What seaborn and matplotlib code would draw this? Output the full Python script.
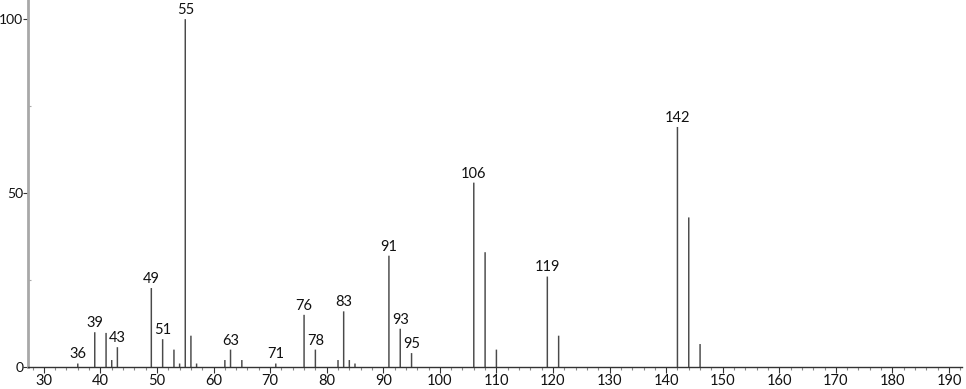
import matplotlib
matplotlib.use("Agg")
import matplotlib.pyplot as plt
import seaborn as sns
import pandas as pd
from matplotlib.ticker import MultipleLocator

mz = [36, 39, 41, 42, 43, 49, 51, 53, 54, 55, 56, 57, 62, 63, 65, 71, 76, 78,
      82, 83, 84, 85, 91, 93, 95, 106, 108, 110, 119, 121, 142, 144, 146]
intensity = [1, 10, 9.8, 2, 5.7, 22.7, 8, 5, 1, 100, 9, 1, 2, 5, 2, 1, 15, 5,
             2, 16, 2, 1, 32, 11, 4, 53, 33, 5, 26, 9, 69, 43, 6.6]
labeled = [36, 39, 43, 49, 51, 55, 63, 71, 76, 78, 83, 91, 93, 95, 106, 119, 142]

df = pd.DataFrame({"mz": mz, "intensity": intensity})

sns.set_style("white")
plt.rcParams["font.family"] = ["Lato", "DejaVu Sans"]

fig = plt.figure(figsize=(9.66, 3.89), dpi=100)
ax = fig.add_axes([28 / 966, 22 / 389, (962 - 28) / 966, (389 - 22) / 389])

sns.barplot(data=df, x="mz", y="intensity", native_scale=True, width=0.26,
            color="#4a4a4a", saturation=1, linewidth=0, ax=ax)
for p in ax.patches:
    p.set_snap(False)
    p.set_antialiased(True)

for m, v in zip(mz, intensity):
    if m in labeled:
        ax.annotate(str(m), (m, v), xytext=(0, 1.5), textcoords="offset points",
                    ha="center", va="bottom", fontsize=10.5, color="#111111")

ax.set_xlim(27.2, 192.3)
ax.set_ylim(0, 105.5)
ax.xaxis.set_major_locator(MultipleLocator(10))
ax.xaxis.set_minor_locator(MultipleLocator(2))
ax.set_yticks([0, 50, 100])
ax.set_yticks([25, 75], minor=True)
ax.set_xlabel("")
ax.set_ylabel("")

for s in ["top", "right"]:
    ax.spines[s].set_visible(False)
ax.spines["left"].set_color("#a8a8a8")
ax.spines["left"].set_linewidth(2)
ax.spines["bottom"].set_color("#333333")
ax.spines["bottom"].set_linewidth(1)

ax.tick_params(axis="x", which="major", direction="out", length=4, width=0.8,
               color="#333333", labelsize=10.5, pad=1, bottom=True,
               labelcolor="#111111")
ax.tick_params(axis="x", which="minor", direction="out", length=2, width=0.8,
               color="#888888", bottom=True)
ax.tick_params(axis="y", which="major", direction="out", length=3.5, width=0.8,
               color="#333333", labelsize=10, pad=0, left=True,
               labelcolor="#111111")
ax.tick_params(axis="y", which="minor", direction="in", length=2, width=0.8,
               color="#aaaaaa", left=True)

fig.savefig("out.png", dpi=100)
